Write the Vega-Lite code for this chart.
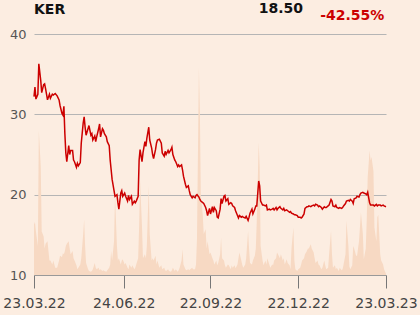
{
 "$schema": "https://vega.github.io/schema/vega-lite/v6.json",
 "width": 352, "height": 241,
 "autosize": {"type": "none"},
 "padding": {"left": 34, "top": 34, "right": 34, "bottom": 40},
 "background": "#fcede1",
 "config": {"view": {"stroke": null}, "font": "DejaVu Sans"},
 "data": {"values": [
{"d":"2022-03-23","p":32.2,"v":21},{"d":"2022-03-24","p":33.4,"v":22},{"d":"2022-03-25","p":31.9,"v":18},{"d":"2022-03-27","p":32.5,"v":12},{"d":"2022-03-28","p":36.3,"v":60},{"d":"2022-03-30","p":34.2,"v":45},{"d":"2022-03-31","p":32.7,"v":18},{"d":"2022-04-02","p":33.7,"v":16},{"d":"2022-04-03","p":33.8,"v":11},{"d":"2022-04-04","p":33.2,"v":13},{"d":"2022-04-06","p":31.8,"v":14},{"d":"2022-04-08","p":32.5,"v":6},{"d":"2022-04-09","p":32.0,"v":6},{"d":"2022-04-11","p":32.5,"v":4.4},{"d":"2022-04-12","p":32.4,"v":6},{"d":"2022-04-14","p":32.6,"v":3},{"d":"2022-04-16","p":32.3,"v":3},{"d":"2022-04-18","p":31.8,"v":6},{"d":"2022-04-19","p":31.1,"v":8},{"d":"2022-04-21","p":30.1,"v":7.5},{"d":"2022-04-22","p":29.9,"v":9},{"d":"2022-04-23","p":31.0,"v":8.6},{"d":"2022-04-24","p":27.6,"v":10},{"d":"2022-04-25","p":25.2,"v":12},{"d":"2022-04-26","p":24.1,"v":13},{"d":"2022-04-28","p":26.1,"v":14},{"d":"2022-04-29","p":25.0,"v":11},{"d":"2022-04-30","p":25.5,"v":8.6},
{"d":"2022-05-02","p":25.5,"v":10},{"d":"2022-05-03","p":24.3,"v":7},{"d":"2022-05-04","p":24.1,"v":6},{"d":"2022-05-06","p":23.4,"v":4},{"d":"2022-05-07","p":23.9,"v":2.4},{"d":"2022-05-08","p":23.6,"v":3},{"d":"2022-05-10","p":24.0,"v":4.4},{"d":"2022-05-11","p":26.4,"v":7},{"d":"2022-05-13","p":28.9,"v":17},{"d":"2022-05-14","p":29.7,"v":23},{"d":"2022-05-15","p":28.4,"v":12},{"d":"2022-05-16","p":27.4,"v":5},{"d":"2022-05-18","p":28.2,"v":2.5},{"d":"2022-05-19","p":28.6,"v":1.7},{"d":"2022-05-21","p":27.4,"v":1.4},{"d":"2022-05-22","p":27.6,"v":1.7},{"d":"2022-05-23","p":26.8,"v":2.4},{"d":"2022-05-25","p":27.3,"v":5},{"d":"2022-05-26","p":26.6,"v":3},{"d":"2022-05-27","p":27.2,"v":2.4},{"d":"2022-05-29","p":28.2,"v":3},{"d":"2022-05-30","p":28.8,"v":2},{"d":"2022-05-31","p":27.2,"v":2.4},
{"d":"2022-06-02","p":28.2,"v":1.7},{"d":"2022-06-03","p":28.0,"v":2},{"d":"2022-06-04","p":27.6,"v":1.7},{"d":"2022-06-06","p":27.2,"v":1.4},{"d":"2022-06-07","p":26.6,"v":2},{"d":"2022-06-09","p":26.1,"v":3},{"d":"2022-06-10","p":24.3,"v":4.4},{"d":"2022-06-11","p":23.1,"v":10},{"d":"2022-06-12","p":21.9,"v":6},{"d":"2022-06-14","p":20.5,"v":14},{"d":"2022-06-15","p":19.8,"v":33},{"d":"2022-06-17","p":20.0,"v":12},{"d":"2022-06-18","p":19.0,"v":6},{"d":"2022-06-19","p":18.2,"v":7},{"d":"2022-06-21","p":20.2,"v":4.4},{"d":"2022-06-22","p":20.5,"v":6},{"d":"2022-06-23","p":19.8,"v":6.5},{"d":"2022-06-25","p":20.2,"v":4.4},{"d":"2022-06-26","p":19.8,"v":5},{"d":"2022-06-28","p":19.2,"v":3},{"d":"2022-06-29","p":19.9,"v":2.4},{"d":"2022-06-30","p":19.4,"v":4.4},
{"d":"2022-07-02","p":19.8,"v":3},{"d":"2022-07-03","p":18.8,"v":4},{"d":"2022-07-05","p":19.2,"v":2.4},{"d":"2022-07-06","p":19.0,"v":3},{"d":"2022-07-07","p":19.2,"v":4.4},{"d":"2022-07-09","p":19.8,"v":7},{"d":"2022-07-10","p":24.3,"v":20},{"d":"2022-07-11","p":25.6,"v":39},{"d":"2022-07-13","p":24.1,"v":20},{"d":"2022-07-14","p":25.2,"v":7},{"d":"2022-07-16","p":26.6,"v":8.6},{"d":"2022-07-17","p":26.0,"v":7},{"d":"2022-07-18","p":27.0,"v":12},{"d":"2022-07-20","p":28.4,"v":37},{"d":"2022-07-21","p":26.8,"v":17},{"d":"2022-07-23","p":25.8,"v":6},{"d":"2022-07-24","p":25.0,"v":7},{"d":"2022-07-25","p":24.5,"v":6},{"d":"2022-07-27","p":25.6,"v":8},{"d":"2022-07-28","p":26.4,"v":4.4},{"d":"2022-07-29","p":26.8,"v":6},{"d":"2022-07-31","p":26.9,"v":3},
{"d":"2022-08-02","p":26.4,"v":4},{"d":"2022-08-03","p":25.2,"v":2.4},{"d":"2022-08-05","p":24.8,"v":3},{"d":"2022-08-06","p":25.4,"v":2},{"d":"2022-08-07","p":25.0,"v":1.7},{"d":"2022-08-09","p":25.5,"v":2.4},{"d":"2022-08-10","p":25.2,"v":1.7},{"d":"2022-08-12","p":25.6,"v":1.4},{"d":"2022-08-13","p":25.9,"v":2},{"d":"2022-08-14","p":25.0,"v":3},{"d":"2022-08-16","p":24.3,"v":1.7},{"d":"2022-08-17","p":24.1,"v":2.4},{"d":"2022-08-19","p":23.5,"v":1.4},{"d":"2022-08-20","p":23.7,"v":2},{"d":"2022-08-21","p":23.5,"v":3},{"d":"2022-08-23","p":23.7,"v":6},{"d":"2022-08-24","p":23.1,"v":10.7},{"d":"2022-08-25","p":22.3,"v":4.4},{"d":"2022-08-27","p":21.3,"v":2.4},{"d":"2022-08-28","p":20.9,"v":2},{"d":"2022-08-30","p":21.1,"v":2.4},{"d":"2022-08-31","p":20.5,"v":2},
{"d":"2022-09-01","p":20.0,"v":2.4},{"d":"2022-09-03","p":19.6,"v":3},{"d":"2022-09-04","p":19.8,"v":2.4},{"d":"2022-09-06","p":19.6,"v":2.4},{"d":"2022-09-07","p":19.9,"v":4.4},{"d":"2022-09-08","p":20.0,"v":15},{"d":"2022-09-10","p":19.7,"v":86},{"d":"2022-09-11","p":19.4,"v":68},{"d":"2022-09-12","p":19.2,"v":33},{"d":"2022-09-14","p":19.0,"v":25},{"d":"2022-09-15","p":18.9,"v":17},{"d":"2022-09-17","p":18.4,"v":19},{"d":"2022-09-18","p":18.0,"v":11},{"d":"2022-09-19","p":17.4,"v":14},{"d":"2022-09-21","p":18.3,"v":8.6},{"d":"2022-09-22","p":17.6,"v":9.3},{"d":"2022-09-24","p":18.5,"v":7},{"d":"2022-09-25","p":17.8,"v":6},{"d":"2022-09-26","p":18.4,"v":4.4},{"d":"2022-09-28","p":18.0,"v":6},{"d":"2022-09-29","p":17.2,"v":4},{"d":"2022-09-30","p":17.1,"v":5},
{"d":"2022-10-02","p":18.2,"v":8.6},{"d":"2022-10-03","p":19.5,"v":15.6},{"d":"2022-10-04","p":18.9,"v":7},{"d":"2022-10-06","p":19.8,"v":6},{"d":"2022-10-07","p":19.9,"v":4},{"d":"2022-10-08","p":19.2,"v":3},{"d":"2022-10-10","p":19.5,"v":4.4},{"d":"2022-10-11","p":18.8,"v":4},{"d":"2022-10-13","p":19.0,"v":2.4},{"d":"2022-10-14","p":18.9,"v":4},{"d":"2022-10-15","p":18.6,"v":3},{"d":"2022-10-17","p":18.4,"v":4},{"d":"2022-10-18","p":18.0,"v":2.8},{"d":"2022-10-20","p":17.4,"v":4.4},{"d":"2022-10-21","p":17.1,"v":7},{"d":"2022-10-22","p":17.4,"v":9.3},{"d":"2022-10-24","p":17.2,"v":6},{"d":"2022-10-25","p":17.3,"v":4.2},{"d":"2022-10-26","p":17.2,"v":3},{"d":"2022-10-28","p":17.1,"v":4.4},{"d":"2022-10-29","p":17.3,"v":7},{"d":"2022-10-31","p":16.8,"v":18.3},
{"d":"2022-11-01","p":17.2,"v":11},{"d":"2022-11-02","p":17.7,"v":5},{"d":"2022-11-04","p":18.2,"v":4.4},{"d":"2022-11-05","p":17.6,"v":6},{"d":"2022-11-07","p":18.2,"v":8},{"d":"2022-11-08","p":18.6,"v":11},{"d":"2022-11-09","p":18.6,"v":22.5},{"d":"2022-11-11","p":21.7,"v":55},{"d":"2022-11-12","p":21.1,"v":45},{"d":"2022-11-13","p":19.2,"v":12},{"d":"2022-11-15","p":18.7,"v":6},{"d":"2022-11-16","p":18.7,"v":4},{"d":"2022-11-18","p":18.6,"v":6},{"d":"2022-11-19","p":18.7,"v":4.4},{"d":"2022-11-20","p":18.1,"v":7},{"d":"2022-11-22","p":18.2,"v":4.4},{"d":"2022-11-23","p":18.1,"v":3},{"d":"2022-11-25","p":18.2,"v":4.4},{"d":"2022-11-26","p":18.3,"v":4.2},{"d":"2022-11-27","p":18.1,"v":6},{"d":"2022-11-29","p":18.4,"v":7},{"d":"2022-11-30","p":18.1,"v":9.3},
{"d":"2022-12-01","p":18.3,"v":8.6},{"d":"2022-12-03","p":18.5,"v":7},{"d":"2022-12-04","p":18.3,"v":8.6},{"d":"2022-12-06","p":18.1,"v":6},{"d":"2022-12-07","p":18.3,"v":7},{"d":"2022-12-08","p":18.0,"v":4.4},{"d":"2022-12-10","p":18.1,"v":6.5},{"d":"2022-12-11","p":18.0,"v":5},{"d":"2022-12-13","p":17.8,"v":4},{"d":"2022-12-14","p":17.9,"v":2.4},{"d":"2022-12-15","p":17.7,"v":11},{"d":"2022-12-17","p":17.6,"v":19.7},{"d":"2022-12-18","p":17.5,"v":6},{"d":"2022-12-19","p":17.5,"v":2.4},{"d":"2022-12-21","p":17.4,"v":1.7},{"d":"2022-12-22","p":17.2,"v":2.4},{"d":"2022-12-24","p":17.2,"v":3},{"d":"2022-12-25","p":17.1,"v":4.4},{"d":"2022-12-26","p":17.2,"v":6},{"d":"2022-12-28","p":17.6,"v":7},{"d":"2022-12-29","p":18.3,"v":8.6},{"d":"2022-12-31","p":18.5,"v":10},
{"d":"2023-01-01","p":18.5,"v":11},{"d":"2023-01-02","p":18.6,"v":11},{"d":"2023-01-04","p":18.5,"v":12.8},{"d":"2023-01-05","p":18.6,"v":11},{"d":"2023-01-07","p":18.7,"v":9.3},{"d":"2023-01-08","p":18.6,"v":7},{"d":"2023-01-09","p":18.8,"v":5},{"d":"2023-01-11","p":18.7,"v":6},{"d":"2023-01-12","p":18.5,"v":4.4},{"d":"2023-01-13","p":18.6,"v":4},{"d":"2023-01-15","p":18.4,"v":2.4},{"d":"2023-01-16","p":18.2,"v":3},{"d":"2023-01-18","p":18.5,"v":6},{"d":"2023-01-19","p":18.4,"v":4},{"d":"2023-01-20","p":18.4,"v":2.4},{"d":"2023-01-22","p":18.6,"v":3},{"d":"2023-01-23","p":18.7,"v":8.6},{"d":"2023-01-25","p":19.4,"v":18.3},{"d":"2023-01-26","p":19.2,"v":8.6},{"d":"2023-01-27","p":18.6,"v":3},{"d":"2023-01-29","p":18.5,"v":4},{"d":"2023-01-30","p":18.7,"v":2.4},{"d":"2023-01-31","p":18.4,"v":3},
{"d":"2023-02-02","p":18.3,"v":1.7},{"d":"2023-02-03","p":18.4,"v":3},{"d":"2023-02-05","p":18.3,"v":2},{"d":"2023-02-06","p":18.4,"v":2.4},{"d":"2023-02-07","p":18.6,"v":4.4},{"d":"2023-02-09","p":18.9,"v":8.6},{"d":"2023-02-10","p":19.2,"v":22.5},{"d":"2023-02-12","p":19.3,"v":12},{"d":"2023-02-13","p":19.2,"v":3.5},{"d":"2023-02-14","p":19.4,"v":2.4},{"d":"2023-02-16","p":19.2,"v":4},{"d":"2023-02-17","p":18.9,"v":12},{"d":"2023-02-18","p":19.5,"v":11},{"d":"2023-02-20","p":19.6,"v":8},{"d":"2023-02-21","p":19.8,"v":8},{"d":"2023-02-23","p":19.7,"v":14},{"d":"2023-02-24","p":20.0,"v":20},{"d":"2023-02-25","p":20.2,"v":26},{"d":"2023-02-27","p":20.3,"v":17},{"d":"2023-02-28","p":20.2,"v":6.5},
{"d":"2023-03-02","p":20.1,"v":11},{"d":"2023-03-03","p":20.0,"v":22.5},{"d":"2023-03-04","p":20.3,"v":40.5},{"d":"2023-03-06","p":19.0,"v":51.7},{"d":"2023-03-07","p":18.7,"v":47.5},{"d":"2023-03-08","p":18.7,"v":49},{"d":"2023-03-10","p":18.7,"v":43},{"d":"2023-03-11","p":18.6,"v":19.7},{"d":"2023-03-13","p":18.8,"v":14},{"d":"2023-03-14","p":18.6,"v":24},{"d":"2023-03-15","p":18.7,"v":25},{"d":"2023-03-17","p":18.7,"v":8.6},{"d":"2023-03-18","p":18.6,"v":6},{"d":"2023-03-20","p":18.7,"v":4.4},{"d":"2023-03-21","p":18.6,"v":2.4},{"d":"2023-03-23","p":18.5,"v":0.5}
 ]},
 "encoding": {
  "x": {"field": "d", "type": "temporal",
   "scale": {"type": "utc", "domain": [{"year": 2022, "month": 3, "date": 23, "utc": true}, {"year": 2023, "month": 3, "date": 23, "utc": true}]},
   "axis": {"title": null, "values": [{"year": 2022, "month": 3, "date": 23, "utc": true}, {"year": 2022, "month": 6, "date": 24, "utc": true}, {"year": 2022, "month": 9, "date": 22, "utc": true}, {"year": 2022, "month": 12, "date": 22, "utc": true}, {"year": 2023, "month": 3, "date": 23, "utc": true}],
    "format": "%d.%m.%y", "grid": false, "domain": true, "domainColor": "#999999", "tickColor": "#777777", "tickSize": 13, "labelFontSize": 14, "labelColor": "#444444", "labelPadding": 8, "labelFlush": false, "labelOverlap": false}}
 },
 "layer": [
  {"mark": {"type": "area", "color": "#f7d9c3", "interpolate": "linear"},
   "encoding": {"y": {"field": "v", "type": "quantitative", "scale": {"domain": [0, 100]}, "axis": null}}},
  {"layer": [
   {"mark": {"type": "line", "color": "#cc0000", "strokeWidth": 1.5},
    "encoding": {"y": {"field": "p", "type": "quantitative", "scale": {"domain": [10, 40]},
     "axis": {"title": null, "values": [10, 20, 30, 40], "grid": true, "gridColor": "#b5b5b5", "domain": false, "ticks": false, "tickSize": 0, "labelFontSize": 13, "labelColor": "#555555", "labelPadding": 8}}}},
   {"transform": [{"filter": "utcyear(datum.d) == 2022 && utcmonth(datum.d) == 2 && utcdate(datum.d) == 23"}],
    "mark": {"type": "text", "text": "KER", "fontSize": 14, "fontWeight": "bold", "color": "#111111", "align": "left", "baseline": "middle"},
    "encoding": {"y": {"datum": 43.0}}},
   {"transform": [{"filter": "utcyear(datum.d) == 2022 && utcmonth(datum.d) == 11 && utcdate(datum.d) == 4"}],
    "mark": {"type": "text", "text": "18.50", "fontSize": 14, "fontWeight": "bold", "color": "#111111", "align": "center", "baseline": "middle"},
    "encoding": {"y": {"datum": 43.1}}},
   {"transform": [{"filter": "utcyear(datum.d) == 2023 && utcmonth(datum.d) == 1 && utcdate(datum.d) == 16"}],
    "mark": {"type": "text", "text": "-42.55%", "fontSize": 14, "fontWeight": "bold", "color": "#cc0000", "align": "center", "baseline": "middle"},
    "encoding": {"y": {"datum": 42.25}}}
  ]}
 ],
 "resolve": {"scale": {"y": "independent"}}
}
